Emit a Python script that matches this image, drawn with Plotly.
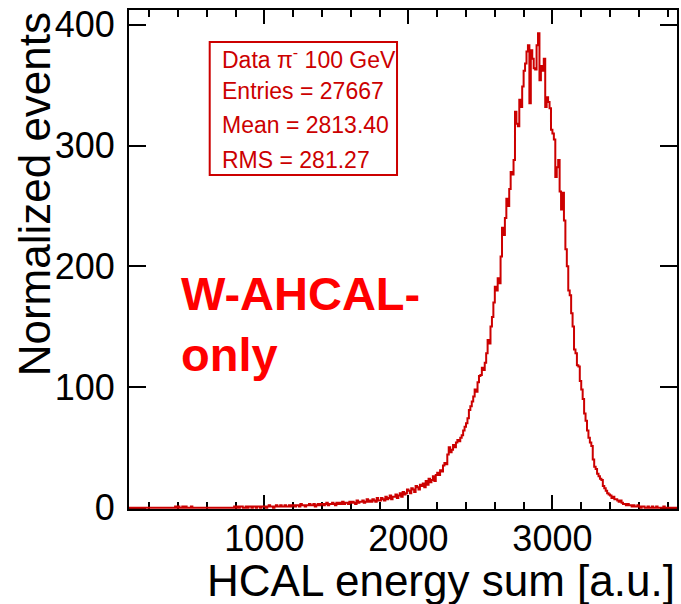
import plotly.graph_objects as go

# HCAL energy-sum histogram, 10-unit bins starting at BIN_START
BIN_START = 0
BIN_WIDTH = 10
counts = (
    # 0 - 400
    [0, 0, 0, 0, 0, 0, 0, 0, 0, 0, 0, 0, 0, 0, 0, 0, 0, 0, 0, 0,
     0, 0, 0, 0, 0, 0, 0, 0, 0, 0, 0, 0, 0, 0, 0, 0, 0, 0, 1, 0]
    # 400 - 800
    + [1, 0, 0, 1, 0, 1, 0, 0, 0, 1, 0, 0, 0, 0, 0, 0, 0, 0, 0, 0,
       0, 0, 0, 0, 0, 0, 0, 0, 0, 0, 0, 0, 0, 0, 0, 0, 0, 0, 0, 1]
    # 800 - 1200
    + [0, 1, 0, 1, 1, 0, 0, 1, 0, 1, 1, 0, 1, 1, 0, 1, 1, 0, 1, 1,
       1, 0, 1, 2, 1, 1, 0, 1, 2, 1, 1, 2, 1, 1, 2, 1, 1, 2, 1, 2]
    # 1200 - 1600
    + [2, 1, 2, 2, 1, 3, 2, 2, 1, 2, 2, 3, 2, 2, 3, 1, 2, 3, 2, 3,
       3, 2, 3, 4, 2, 3, 3, 4, 3, 2, 4, 3, 4, 3, 5, 3, 4, 4, 3, 5]
    # 1600 - 2000
    + [4, 5, 4, 3, 6, 4, 5, 5, 6, 4, 5, 7, 5, 6, 5, 7, 6, 5, 8, 6,
       6, 8, 7, 6, 9, 7, 8, 10, 7, 9, 9, 11, 8, 10, 12, 9, 13, 11, 12, 15]
    # 2000 - 2400
    + [14, 12, 16, 15, 13, 18, 17, 15, 19, 18, 20, 17, 22, 19, 24, 21, 23, 26, 22, 27,
       29, 27, 31, 30, 35, 37, 36, 44, 50, 46, 48, 52, 50, 54, 56, 55, 58, 60, 64, 67]
    # 2400 - 2600
    + [70, 74, 81, 84, 88, 92, 98, 96, 104, 109,
       110, 116, 114, 120, 128, 139, 136, 150, 158, 170]
    # 2600 - 2800
    + [183, 180, 190, 186, 208, 232, 226, 240, 256, 250,
       264, 278, 276, 288, 328, 318, 316, 338, 332, 349]
    # 2800 - 3000
    + [362, 368, 378, 383, 335, 379, 372, 364, 363, 383,
       393, 354, 366, 362, 372, 332, 340, 336, 331, 313]
    # 3000 - 3200
    + [310, 305, 274, 282, 288, 262, 247, 261, 238, 214,
       200, 180, 176, 161, 150, 131, 128, 118, 117, 105]
    # 3200 - 3400
    + [98, 90, 78, 72, 64, 58, 54, 51, 40, 34,
       32, 28, 26, 24, 23, 18, 16, 14, 12, 11]
    # 3400 - 3600
    + [10, 8, 9, 7, 7, 6, 5, 6, 4, 3, 3, 2, 3, 2, 2, 1, 2, 1, 1, 2]
    # 3600 - 3880
    + [1, 0, 1, 1, 0, 0, 1, 0, 0, 1, 0, 0, 1, 0, 0, 0, 0, 1, 0, 0,
       0, 0, 0, 0, 0, 0, 0, 0]
)

stats_lines = ["Data π<sup>-</sup> 100 GeV", "Entries = 27667",
               "Mean = 2813.40", "RMS = 281.27"]
x_title = "HCAL energy sum [a.u.]"
y_title = "Normalized events"
label_text = "W-AHCAL-<br>only"

X_RANGE = [60, 3865]
Y_RANGE = [-1.1, 412.3]

# step outline: left edges plus the closing right edge
edges = [BIN_START + i * BIN_WIDTH for i in range(len(counts) + 1)]
step_y = counts + [counts[-1]]

W, H = 681, 604
ML, MR, MT, MB = 129, 2, 10, 95
PW, PH = W - ML - MR, H - MT - MB


def px_x(px):
    return (px - ML) / PW


def px_y(py):
    return (H - MB - py) / PH


FONT = "Liberation Sans, Arial, sans-serif"
HIST_RED = "#cc0000"

fig = go.Figure()
fig.add_trace(go.Scatter(
    x=edges, y=step_y, mode="lines", line_shape="hv",
    line=dict(color=HIST_RED, width=2), hoverinfo="skip", showlegend=False,
))

axis_common = dict(
    showline=True, linecolor="black", linewidth=2, mirror="ticks",
    ticks="inside", tickcolor="black", tickwidth=2,
    showgrid=False, zeroline=False,
    tickfont=dict(family=FONT, size=36, color="black"),
    layer="below traces",
)

fig.update_xaxes(
    range=X_RANGE, tick0=0, dtick=1000, ticklen=14,
    minor=dict(ticks="inside", dtick=200, tick0=0, ticklen=7,
               tickwidth=2, tickcolor="black", showgrid=False),
    ticklabelstandoff=-3,
    **axis_common,
)
fig.update_yaxes(
    range=Y_RANGE, tick0=0, dtick=100, ticklen=17,
    ticklabelstandoff=5,
    **axis_common,
)

# statistics box
fig.add_shape(type="rect", xref="paper", yref="paper",
              x0=px_x(210), x1=px_x(398), y0=px_y(175), y1=px_y(42),
              line=dict(color=HIST_RED, width=2), fillcolor="white")
for line, py in zip(stats_lines, [58, 91, 125, 160]):
    fig.add_annotation(xref="paper", yref="paper", x=px_x(220), y=px_y(py),
                       xanchor="left", yanchor="middle", showarrow=False,
                       text=line, font=dict(family=FONT, size=23, color=HIST_RED))

# detector label
fig.add_annotation(xref="paper", yref="paper", x=px_x(179), y=px_y(265),
                   xanchor="left", yanchor="top", showarrow=False, align="left",
                   text=f"<b>{label_text}</b>",
                   font=dict(family=FONT, size=47, color="#ff0000"))

# axis titles, aligned to the axis ends
fig.add_annotation(xref="paper", yref="paper", x=1.0, y=px_y(580),
                   xanchor="right", yanchor="middle", showarrow=False,
                   text=x_title, font=dict(family=FONT, size=44, color="black"))
fig.add_annotation(xref="paper", yref="paper", x=px_x(34), y=1.0,
                   xanchor="center", yanchor="top", showarrow=False,
                   textangle=-90,
                   text=y_title, font=dict(family=FONT, size=44, color="black"))

fig.update_layout(
    width=W, height=H,
    margin=dict(l=ML, r=MR, t=MT, b=MB),
    paper_bgcolor="white", plot_bgcolor="white",
    showlegend=False,
)

fig.write_html("out.html")
